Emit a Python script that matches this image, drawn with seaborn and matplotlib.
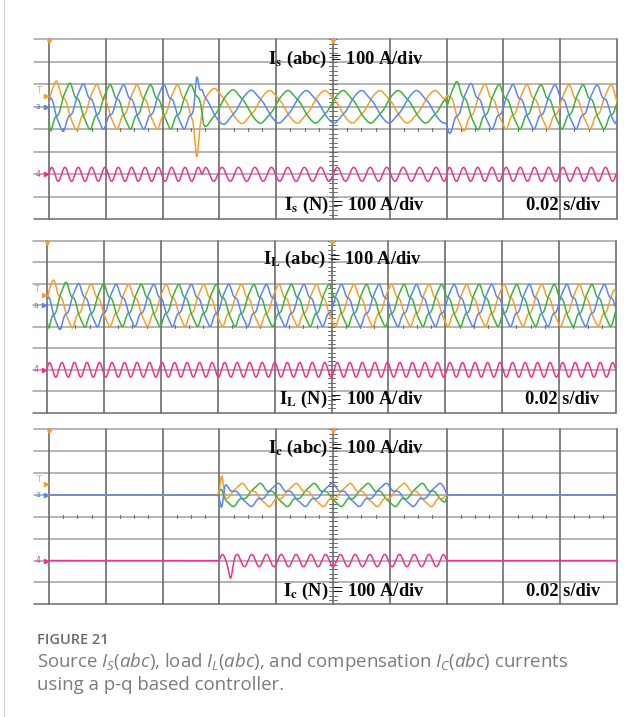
import numpy as np
import pandas as pd
import matplotlib
matplotlib.use('Agg')
import matplotlib.pyplot as plt
import seaborn as sns

# scope traces, x in divisions (0.02 s/div), y in divisions (100 A/div)
# values: segment limits, periods, peak times, amplitudes

# --- source current Is (abc) and Is (N)
is_start = [0.0, 2.70, 7.00]
is_end = [2.70, 7.00, 10.0]
is_period = [0.71, 0.97, 0.74]
is_peak_a = [0.135, 2.92, 7.68]
is_amp = [0.90, 0.70, 0.90]
is_harm = [0.14, 0.05, 0.14]
is_n_period = [0.235, 0.29, 0.25]
is_n_amp = [0.31, 0.31, 0.31]
is_boost = 0.25
is_spike_t = [2.60]
is_spike_amp = {'a': [-1.25], 'b': [0.10], 'c': [1.05]}
is_n_spike_amp = [0.0]

# --- load current IL (abc) and IL (N)
il_start = [0.0]
il_end = [10.0]
il_period = [0.66]
il_peak_a = [0.12]
il_amp = [0.90]
il_harm = [0.14]
il_n_period = [0.22]
il_n_amp = [0.34]
il_boost = 0.30
il_spike_t = []
il_spike_amp = {'a': [], 'b': [], 'c': []}
il_n_spike_amp = []

# --- compensation current Ic (abc) and Ic (N)
ic_start = [3.0]
ic_end = [6.99]
ic_period = [0.95]
ic_peak_a = [4.36]
ic_amp = [0.47]
ic_harm = [0.20]
ic_n_period = [0.26]
ic_n_amp = [0.28]
ic_boost = 0.0
ic_spike_t = [3.04, 3.20]
ic_spike_amp = {'a': [1.05, 0.0], 'b': [0.25, 0.0], 'c': [-1.0, 0.0]}
ic_n_spike_amp = [0.0, -0.55]

labels_abc = [r'$\mathbf{I_s}$ (abc) = 100 A/div', r'$\mathbf{I_L}$ (abc) = 100 A/div',
              r'$\mathbf{I_c}$ (abc) = 100 A/div']
labels_n = [r'$\mathbf{I_s}$ (N) = 100 A/div', r'$\mathbf{I_L}$ (N) = 100 A/div',
            r'$\mathbf{I_c}$ (N) = 100 A/div']
time_label = '0.02 s/div'

colors = {'a': '#F5A02E', 'b': '#3DB337', 'c': '#5B86F2', 'N': '#F0328C'}

W, H = 639, 717
t = np.linspace(0, 10, 5001)


def window(start, end, width=0.012):
    up = 1 / (1 + np.exp(-(t - start) / width))
    down = 1 / (1 + np.exp(-(end - t) / width))
    return up * down


def build(start, end, period, peak_a, amp, harm, n_period, n_amp, boost, spike_t, spike_amp, n_spike):
    traces = {k: np.zeros_like(t) for k in ['a', 'b', 'c', 'N']}
    for i in range(len(start)):
        w = window(start[i], end[i])
        env = amp[i] * (1 + boost * np.exp(-(t - start[i]) / 0.3))
        for j, ph in enumerate(['a', 'b', 'c']):
            th = 2 * np.pi * (t - peak_a[i]) / period[i] - j * 2 * np.pi / 3
            wave = np.cos(th) + harm[i] * np.cos(3 * th + 0.9) + 0.6 * harm[i] * np.cos(5 * th - 0.4)
            traces[ph] += w * env * wave / (1 + 0.5 * harm[i])
        traces['N'] += w * n_amp[i] * np.cos(2 * np.pi * (t - start[i]) / n_period[i] - 1.2)
    for k, ts in enumerate(spike_t):
        bump = np.exp(-((t - ts) / 0.04) ** 2)
        for ph in ['a', 'b', 'c']:
            traces[ph] += spike_amp[ph][k] * bump
        traces['N'] += n_spike[k] * bump
    rows = []
    for ph in ['a', 'b', 'c']:
        rows.append(pd.DataFrame({'t': t, 'v': traces[ph] + 1.0, 'trace': ph}))
    rows.append(pd.DataFrame({'t': t, 'v': traces['N'] - 2.0, 'trace': 'N'}))
    return pd.concat(rows, ignore_index=True)


panels = [
    build(is_start, is_end, is_period, is_peak_a, is_amp, is_harm, is_n_period, is_n_amp,
          is_boost, is_spike_t, is_spike_amp, is_n_spike_amp),
    build(il_start, il_end, il_period, il_peak_a, il_amp, il_harm, il_n_period, il_n_amp,
          il_boost, il_spike_t, il_spike_amp, il_n_spike_amp),
    build(ic_start, ic_end, ic_period, ic_peak_a, ic_amp, ic_harm, ic_n_period, ic_n_amp,
          ic_boost, ic_spike_t, ic_spike_amp, ic_n_spike_amp),
]

# pixel boxes of the three scope screens (left strip included) and x of the first grid line
boxes = [(34, 39.3, 617, 219.3, 49), (33, 241, 616, 412.7, 47), (34, 429.3, 617, 604.3, 49)]

sns.set_theme(style='white')
plt.rcParams['mathtext.fontset'] = 'custom'
plt.rcParams['mathtext.rm'] = 'Open Sans'
plt.rcParams['mathtext.it'] = 'Open Sans:italic'

fig = plt.figure(figsize=(W / 100, H / 100), dpi=100)
fig.patch.set_facecolor('white')

for p, (df, (x0, y0, x1, y1, xg)) in enumerate(zip(panels, boxes)):
    ax = fig.add_axes([x0 / W, 1 - y1 / H, (x1 - x0) / W, (y1 - y0) / H])
    div = (x1 - xg) / 10
    ax.set_xlim(-(xg - x0) / div, 10)
    ax.set_ylim(-4, 4)
    ax.axis('off')

    for y in range(-4, 5):
        ax.axhline(y, color='#6c6c6c' if y == -4 else '#a0a0a0', lw=1.1, clip_on=False, zorder=1)
    for x in range(0, 11):
        ax.plot([x, x], [-4, 4], color='#6c6c6c', lw=1.2, clip_on=False, zorder=1)
    # center graticule ticks
    for x in np.arange(0, 10.01, 0.25):
        if abs(x - round(x)) > 0.01:
            ax.plot([x, x], [-0.07, 0.07], color='#6c6c6c', lw=0.8, zorder=1)
    for y in np.arange(-4, 4.01, 0.2):
        ax.plot([4.93, 5.07], [y, y], color='#6c6c6c', lw=0.7, zorder=1)

    sns.lineplot(data=df, x='t', y='v', hue='trace', palette=colors,
                 hue_order=['a', 'b', 'c', 'N'] if p < 2 else ['b', 'a', 'c', 'N'],
                 estimator=None, sort=False, legend=False, lw=1.1, ax=ax, zorder=3)

    # channel markers in the left strip
    ax.text(-0.17, 1.72, 'T', color=colors['a'], fontsize=5.5, ha='center', va='center')
    ax.plot(-0.06, 1.5, marker='>', ms=3, color=colors['a'], clip_on=False)
    ax.text(-0.19, 1.0, 'a', color=colors['c'], fontsize=5.5, ha='center', va='center')
    ax.plot(-0.06, 1.0, marker='>', ms=3, color=colors['c'], clip_on=False)
    ax.text(-0.19, -2.0, '4', color=colors['N'], fontsize=5.5, ha='center', va='center')
    ax.plot(-0.06, -2.0, marker='>', ms=3, color=colors['N'], clip_on=False)
    ax.plot([0, 5], [3.93, 3.93], ls='none', marker='v', ms=3, color=colors['a'], clip_on=False)

    txt = dict(fontsize=13.3, fontweight='bold', family='Liberation Serif', math_fontfamily='stix',
               color='#0a0a0a', va='baseline', zorder=5)
    ax.text(6.6, 2.92, labels_abc[p], ha='right', **txt)
    ax.text(6.62, -3.6, labels_n[p], ha='right', **txt)
    ax.text(9.7, -3.6, time_label, ha='right', **txt)

# left frame line of the page box
fig.add_artist(plt.Line2D([4 / W, 4 / W], [0, 1], color='#d4d4d4', lw=1.0))

fig.text(37 / W, 1 - 644 / H, 'FIGURE 21', color='#6b6b6b', fontsize=10.5,
         family='Open Sans', fontweight='semibold', va='baseline')
fig.text(37 / W, 1 - 667 / H,
         r'Source $I_S(abc)$, load $I_L(abc)$, and compensation $I_C(abc)$ currents',
         color='#7b7b7b', fontsize=13.4, family='Open Sans', va='baseline')
fig.text(37 / W, 1 - 690 / H, 'using a p-q based controller.', color='#7b7b7b',
         fontsize=13.4, family='Open Sans', va='baseline')

fig.savefig('out.png', dpi=100)
